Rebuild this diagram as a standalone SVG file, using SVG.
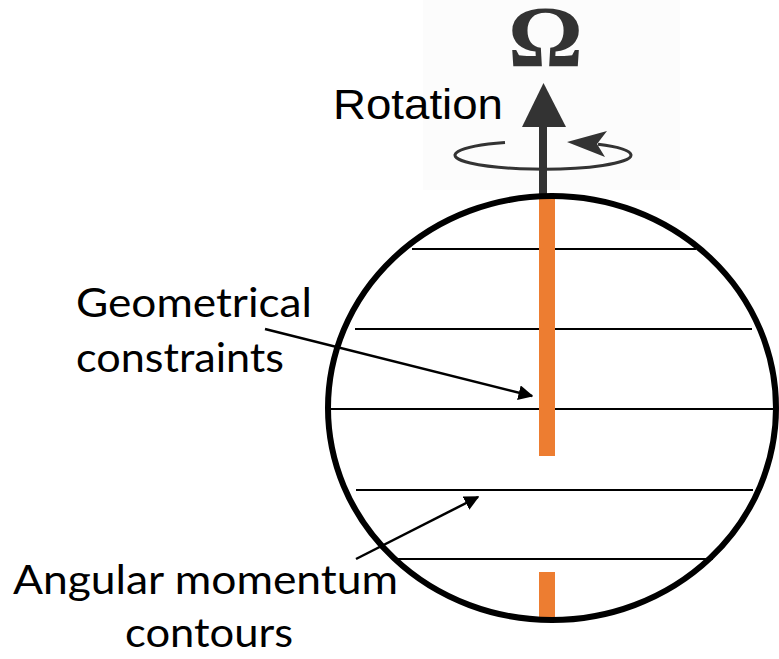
<svg xmlns="http://www.w3.org/2000/svg" width="779" height="659" viewBox="0 0 779 659">
<style>
.lbl{font-family:Lato,"Liberation Sans",sans-serif;font-size:41px;fill:#000}
.contour{stroke:#000;stroke-width:2;fill:none}
.conn{stroke:#000;stroke-width:2.5;fill:none}
.orange{fill:#ED7D31}
</style>
<defs>
<marker id="ah" viewBox="0 0 10 10" refX="9" refY="5" markerWidth="6" markerHeight="6" markerUnits="strokeWidth" orient="auto">
<path d="M0,0 L10,5 L0,10 z" fill="#000"/>
</marker>
</defs>
<rect width="779" height="659" fill="#fff"/>
<g id="rotation-icon">
<rect x="423" y="0" width="257" height="190" fill="#fcfcfc"/>
<text x="508" y="66" font-family="'Liberation Serif',serif" font-weight="bold" font-size="86" fill="#333" textLength="75" lengthAdjust="spacingAndGlyphs">Ω</text>
<rect x="539" y="120" width="8" height="76" fill="#333"/>
<polygon points="543.5,83 522,127 566,127" fill="#333"/>
<path d="M505,142.5 A88,14 0 1 0 598,144.2" fill="none" stroke="#333" stroke-width="3"/>
<polygon points="567,142 607,131 597,144 605,157" fill="#333"/>
<text x="333" y="119" font-family="'Liberation Sans',Arial,sans-serif" font-size="43" fill="#000" textLength="170" lengthAdjust="spacingAndGlyphs">Rotation</text>
</g>
<g id="sphere">
<line class="contour" x1="412" y1="249" x2="696" y2="249"/>
<line class="contour" x1="355" y1="329" x2="752" y2="329"/>
<line class="contour" x1="329" y1="409" x2="776" y2="409"/>
<line class="contour" x1="356" y1="490" x2="753" y2="490"/>
<line class="contour" x1="395" y1="559" x2="713" y2="559"/>
<rect class="orange" x="539" y="197" width="16" height="259"/>
<rect class="orange" x="539" y="572" width="16" height="48"/>
<ellipse cx="552" cy="408" rx="224" ry="212" fill="none" stroke="#000" stroke-width="6"/>
</g>
<g id="geometrical-label">
<text class="lbl" x="76" y="317" textLength="236" lengthAdjust="spacingAndGlyphs">Geometrical</text>
<text class="lbl" x="76" y="372" textLength="208" lengthAdjust="spacingAndGlyphs">constraints</text>
</g>
<g id="angular-label">
<text class="lbl" x="13" y="594" textLength="385" lengthAdjust="spacingAndGlyphs">Angular momentum</text>
<text class="lbl" x="125" y="647" textLength="168" lengthAdjust="spacingAndGlyphs">contours</text>
</g>
<g id="connectors">
<line class="conn" x1="265" y1="329" x2="532" y2="396" marker-end="url(#ah)"/>
<line class="conn" x1="356" y1="559" x2="478" y2="497" marker-end="url(#ah)"/>
</g>
</svg>
